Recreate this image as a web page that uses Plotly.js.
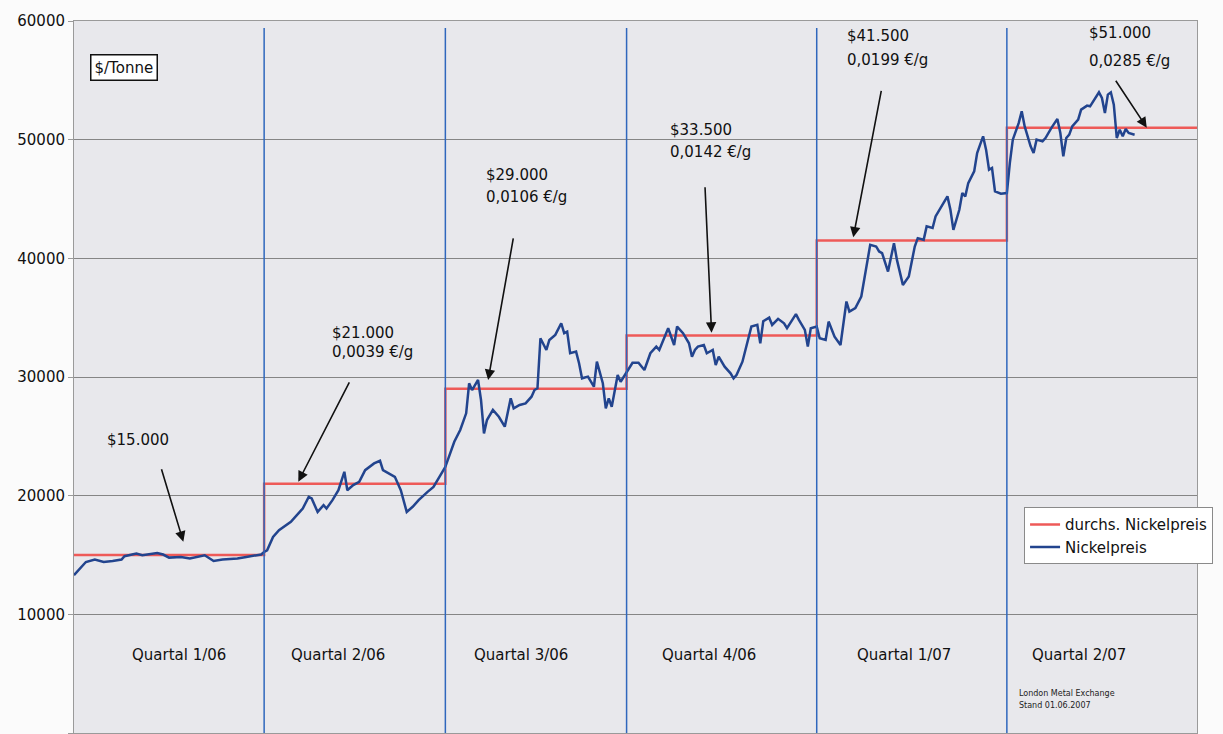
<!DOCTYPE html>
<html>
<head>
<meta charset="utf-8">
<script src="https://cdn.plot.ly/plotly-3.0.1.min.js"></script>
<style>html,body{margin:0;padding:0;background:#fbfbfb;}#chart{width:1223px;height:734px;}</style>
</head>
<body>
<div id="chart"></div>
<script>
// Trading-day index (from 2 Jan 2006) and LME nickel price in $/tonne
const tradingDays = [0,1,4,7,10,13,16,17,21,23,26,28,30,32,36,39,44,47,50,55,58,63,64,
65,67,69,73,75,77,79,80,82,84,85,87,89,91,92,94,96,98,101,103,104,106,108,110,112,114,116,119,121,124,125,
128,130,132,133,134,136,137,138,139,141,143,145,147,148,150,152,154,155,156,157,159,160,162,164,165,166,167,169,170,171,173,175,176,178,179,180,181,183,184,186,188,
190,192,194,196,197,199,200,202,203,205,207,208,209,210,212,213,215,216,217,219,221,222,223,225,226,228,230,231,232,234,235,237,239,240,243,244,246,247,248,250,
251,253,254,256,258,259,260,261,263,265,266,267,268,270,271,272,274,276,277,279,281,283,284,286,287,289,290,292,294,295,296,298,299,300,301,303,304,305,306,307,308,309,310,312,314,
315,316,318,319,320,322,323,324,326,327,329,331,332,333,334,335,336,338,339,341,342,343,344,345,346,347,348,349,350,351,352,353,354,355,357];

const nickelPrice = [13300,13570,14410,14620,14410,14500,14620,14900,15120,14980,15120,15170,15040,14780,14840,14700,14980,14500,14620,14700,14840,15040,15260,
15400,16520,17090,17790,18350,18920,19900,19760,18630,19200,18920,19620,20460,22010,20460,20890,21160,22150,22720,22940,22150,21870,21590,20460,18630,19060,19620,20320,20740,22010,22430,
24540,25530,26940,29470,28900,29750,28060,25250,26370,27220,26650,25810,28200,27360,27640,27780,28340,28900,29050,33270,32280,33120,33550,34530,33690,33820,32000,32140,31160,29890,30030,29180,31290,29470,27360,28200,27490,30170,29600,30450,31200,
31210,30590,32000,32560,32280,33550,34110,32700,34250,33690,32840,31710,32280,32560,32700,32000,32280,31010,31710,30870,30310,29890,30170,31290,32280,34250,34390,32840,34700,35000,34390,34900,34530,34110,35300,34810,33970,32560,34110,34250,
33270,33120,34670,33400,32700,34530,36360,35510,35800,36780,38190,39870,41140,41000,40580,40440,38890,41280,39870,37760,38470,41000,41700,41560,42690,42550,43530,44370,45220,44090,42400,44090,45500,45220,46340,47330,48880,49580,50280,49160,47470,47610,45640,45440,45500,
48030,50000,51410,52390,51120,49440,48880,50000,49860,50140,50990,51750,50560,48590,50140,50420,51120,51690,52530,52870,52810,53230,53650,53990,53520,52250,53800,53990,52950,50140,50840,50280,50900,50560,50420];

// Quarter boundaries (trading-day index) and quarterly average prices
const quarterStarts = [0,64,125,186,250,314,378];
const quarterLabels = ["Quartal 1/06","Quartal 2/06","Quartal 3/06","Quartal 4/06","Quartal 1/07","Quartal 2/07"];
const avgPrice = [15000,21000,29000,33500,41500,51000];
const priceLabels = ["$15.000","$21.000","$29.000","$33.500","$41.500","$51.000"];
const gramLabels = ["","0,0039 €/g","0,0106 €/g","0,0142 €/g","0,0199 €/g","0,0285 €/g"];

const FONT = "DejaVu Sans, Arial, sans-serif";

const stepX = quarterStarts.slice();
const stepY = avgPrice.concat([avgPrice[avgPrice.length-1]]);

const traces = [
  {x: stepX, y: stepY, mode: 'lines', line: {shape: 'hv', color: '#ee5a58', width: 2.5},
   name: 'durchs. Nickelpreis', hoverinfo: 'skip'},
  {x: tradingDays, y: nickelPrice, mode: 'lines', line: {color: '#22448e', width: 2.5},
   name: 'Nickelpreis'}
];

// layout positions for annotations (text placement only)
const qLabelX = [35.3, 88.9, 150.6, 213.6, 279.5, 338.4];
const priceTextX = [10.4, 86.2, 138.0, 199.9, 259.5, 341.0];
const priceTextY = [24690, 33710, 47020, 50820, 58740, 58990];
const gramTextY = [null, 32110, 45170, 48970, 56710, 56630];
const arrowTip = [[36.8,16120,-25,-83],[75.5,21180,55,-107],[139.4,29750,27,-152],[214.6,33730,-7,-156],[262.3,41770,30,-157],[361.1,51010,-35,-53]];

const annotations = [];
quarterLabels.forEach((t,i)=>annotations.push({x:qLabelX[i], y:6570, xref:'x', yref:'y', text:t, showarrow:false,
  font:{family:FONT,size:15,color:'#111'}, xanchor:'center', yanchor:'middle'}));
priceLabels.forEach((t,i)=>{
  annotations.push({x:priceTextX[i], y:priceTextY[i], xref:'x', yref:'y', text:t, showarrow:false,
    font:{family:FONT,size:15,color:'#111'}, xanchor:'left', yanchor:'middle'});
  if (gramLabels[i]) annotations.push({x:priceTextX[i], y:gramTextY[i], xref:'x', yref:'y', text:gramLabels[i], showarrow:false,
    font:{family:FONT,size:15,color:'#111'}, xanchor:'left', yanchor:'middle'});
});
arrowTip.forEach(a=>annotations.push({x:a[0], y:a[1], xref:'x', yref:'y', ax:a[2], ay:a[3], showarrow:true,
  arrowhead:2, arrowsize:1.3, arrowwidth:1.6, arrowcolor:'#111', standoff:0, startstandoff:0}));
annotations.push({x:16.9, y:56080, xref:'x', yref:'y', text:'$/Tonne', showarrow:false,
  font:{family:FONT,size:15,color:'#111'}, bgcolor:'#ffffff', bordercolor:'#111', borderwidth:1.5, borderpad:3});
annotations.push({x:317.4, y:3290, xref:'x', yref:'y', text:'London Metal Exchange', showarrow:false, xanchor:'left',
  font:{family:FONT,size:8,color:'#222'}});
annotations.push({x:317.4, y:2280, xref:'x', yref:'y', text:'Stand 01.06.2007', showarrow:false, xanchor:'left',
  font:{family:FONT,size:8,color:'#222'}});

const shapes = quarterStarts.slice(1, quarterStarts.length-1).map(q=>({
  type:'line', xref:'x', yref:'paper', x0:q, x1:q, y0:0, y1:0.99, line:{color:'#2f67bd', width:1.5}, layer:'above'
}));

const layout = {
  width: 1223, height: 734,
  margin: {l: 74, r: 26, t: 21, b: 1, autoexpand: false},
  paper_bgcolor: '#fbfbfb', plot_bgcolor: '#e8e8ec',
  font: {family: FONT, size: 15, color: '#111'},
  showlegend: true,
  legend: {x: 0.846, y: 0.317, xanchor: 'left', yanchor: 'top', bgcolor: '#ffffff',
           bordercolor: '#8a8a8a', borderwidth: 1, font: {family: FONT, size: 15, color: '#111'}},
  xaxis: {range: [0, 378], showticklabels: false, ticks: '', showgrid: false, zeroline: false,
          showline: true, mirror: true, linecolor: '#9a9a9a', linewidth: 1},
  yaxis: {range: [0, 60000], dtick: 10000, tickformat: 'd', showgrid: true, gridcolor: '#858585', gridwidth: 1,
          zeroline: false, showline: true, mirror: true, linecolor: '#9a9a9a', linewidth: 1,
          ticks: 'outside', ticklen: 5, tickcolor: '#9a9a9a', tickfont: {family: FONT, size: 15, color: '#111'}},
  annotations: annotations,
  shapes: shapes
};

Plotly.newPlot('chart', traces, layout, {displayModeBar: false, staticPlot: true});
</script>
</body>
</html>
